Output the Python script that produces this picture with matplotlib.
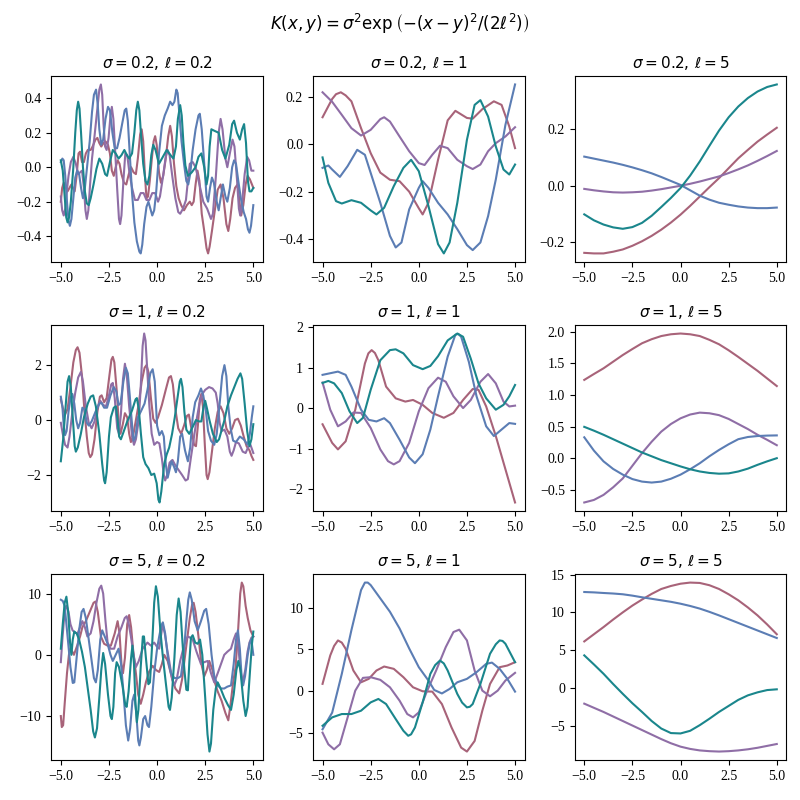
import matplotlib
matplotlib.use("Agg")
import matplotlib.pyplot as plt

plt.rcParams['font.family'] = ['Liberation Serif', 'DejaVu Sans']
plt.rcParams['mathtext.fontset'] = 'dejavusans'

BLUE = '#5b7db4'
TEAL = '#1a868c'
MAUVE = '#a86379'
PURPLE = '#8f6ea6'

sigmas = ['0.2', '1', '5']
lengths = ['0.2', '1', '5']

# sigma=0.2, l=0.2  (x, y)
a_blue = [(-5.0, 0.03), (-4.92, 0.05), (-4.85, 0.04), (-4.77, -0.05), (-4.68, -0.2), (-4.6, -0.31),
          (-4.53, -0.34), (-4.45, -0.3), (-4.35, -0.18), (-4.25, -0.06), (-4.15, -0.02), (-4.05, -0.04),
          (-3.95, -0.12), (-3.85, -0.18), (-3.75, -0.12), (-3.62, 0.02), (-3.5, 0.15), (-3.38, 0.32),
          (-3.28, 0.42), (-3.17, 0.45), (-3.08, 0.36), (-3.0, 0.22), (-2.9, 0.13), (-2.8, 0.16),
          (-2.68, 0.28), (-2.55, 0.35), (-2.45, 0.33), (-2.32, 0.2), (-2.2, 0.11), (-2.08, 0.11),
          (-1.95, 0.17), (-1.8, 0.26), (-1.68, 0.33), (-1.6, 0.34), (-1.52, 0.27), (-1.42, 0.08),
          (-1.3, -0.15), (-1.18, -0.32), (-1.05, -0.43), (-0.92, -0.49), (-0.85, -0.5), (-0.77, -0.45),
          (-0.67, -0.33), (-0.55, -0.23), (-0.45, -0.2), (-0.35, -0.24), (-0.25, -0.28), (-0.15, -0.25),
          (-0.05, -0.15), (0.1, 0.08), (0.25, 0.24), (0.4, 0.3), (0.55, 0.34), (0.68, 0.38), (0.8, 0.36),
          (0.9, 0.38), (1.0, 0.45), (1.07, 0.43), (1.15, 0.32), (1.27, 0.15), (1.4, 0.02), (1.52, -0.08),
          (1.62, -0.1), (1.72, -0.04), (1.85, 0.1), (2.0, 0.22), (2.15, 0.3), (2.22, 0.31), (2.32, 0.22),
          (2.45, 0.02), (2.57, -0.17), (2.65, -0.2), (2.75, -0.12), (2.85, -0.06), (2.95, -0.09),
          (3.1, -0.2), (3.2, -0.25), (3.3, -0.18), (3.42, -0.1), (3.55, -0.17), (3.65, -0.2),
          (3.78, -0.12), (3.9, 0.0), (4.0, 0.04), (4.1, 0.02), (4.22, -0.08), (4.35, -0.18),
          (4.5, -0.26), (4.62, -0.3), (4.72, -0.36), (4.8, -0.38), (4.88, -0.34), (5.0, -0.22)]
a_mauve = [(-5.0, -0.2), (-4.93, -0.12), (-4.85, -0.09), (-4.75, -0.11), (-4.65, -0.14), (-4.55, -0.12),
           (-4.45, -0.1), (-4.37, -0.12), (-4.28, -0.14), (-4.18, -0.05), (-4.08, 0.08), (-4.0, 0.09),
           (-3.9, 0.03), (-3.8, 0.03), (-3.7, 0.08), (-3.6, 0.1), (-3.45, 0.1), (-3.35, 0.12),
           (-3.2, 0.16), (-3.1, 0.17), (-3.0, 0.14), (-2.9, 0.12), (-2.78, 0.14), (-2.68, 0.15),
           (-2.55, 0.13), (-2.45, 0.08), (-2.35, -0.02), (-2.25, -0.05), (-2.15, 0.0), (-2.05, 0.04),
           (-1.95, 0.02), (-1.85, -0.04), (-1.72, -0.09), (-1.6, -0.1), (-1.47, -0.04), (-1.35, 0.0),
           (-1.22, -0.03), (-1.1, -0.04), (-1.0, 0.05), (-0.88, 0.19), (-0.8, 0.22), (-0.72, 0.15),
           (-0.63, -0.05), (-0.55, -0.18), (-0.47, -0.17), (-0.38, -0.08), (-0.28, 0.04), (-0.18, 0.15),
           (-0.1, 0.18), (-0.02, 0.13), (0.1, -0.03), (0.2, -0.09), (0.32, -0.05), (0.45, 0.05),
           (0.58, 0.18), (0.68, 0.24), (0.77, 0.18), (0.88, 0.02), (1.0, -0.11), (1.12, -0.18),
           (1.25, -0.22), (1.4, -0.25), (1.55, -0.22), (1.7, -0.2), (1.8, -0.22), (1.9, -0.2),
           (2.0, -0.1), (2.1, -0.02), (2.2, -0.08), (2.32, -0.27), (2.45, -0.37), (2.57, -0.47),
           (2.65, -0.5), (2.73, -0.46), (2.85, -0.37), (3.0, -0.25), (3.15, -0.13), (3.3, -0.1),
           (3.45, -0.18), (3.6, -0.33), (3.7, -0.37), (3.8, -0.3), (3.92, -0.18), (4.05, -0.12),
           (4.18, -0.1), (4.28, -0.2), (4.37, -0.28), (4.48, -0.22), (4.6, -0.1), (4.7, -0.05),
           (4.82, -0.07), (5.0, -0.12)]
a_purple = [(-5.0, -0.17), (-4.93, -0.25), (-4.85, -0.28), (-4.77, -0.24), (-4.68, -0.13), (-4.6, -0.05),
            (-4.48, 0.03), (-4.35, 0.06), (-4.22, 0.02), (-4.1, -0.04), (-4.0, -0.03), (-3.9, -0.02),
            (-3.8, -0.12), (-3.72, -0.25), (-3.65, -0.3), (-3.57, -0.25), (-3.48, -0.1), (-3.38, 0.05),
            (-3.25, 0.18), (-3.12, 0.32), (-3.0, 0.45), (-2.92, 0.48), (-2.85, 0.42), (-2.78, 0.25),
            (-2.7, 0.12), (-2.62, 0.1), (-2.52, 0.17), (-2.42, 0.3), (-2.35, 0.35), (-2.27, 0.28),
            (-2.17, 0.08), (-2.07, -0.13), (-1.98, -0.3), (-1.92, -0.33), (-1.85, -0.28), (-1.75, -0.08),
            (-1.65, 0.08), (-1.55, 0.07), (-1.45, -0.02), (-1.3, -0.12), (-1.15, -0.19), (-1.0, -0.19),
            (-0.85, -0.15), (-0.7, -0.15), (-0.55, -0.19), (-0.4, -0.19), (-0.25, -0.15), (-0.1, -0.15),
            (0.05, -0.2), (0.15, -0.17), (0.3, -0.06), (0.45, 0.06), (0.55, 0.1), (0.65, 0.07),
            (0.8, -0.06), (0.95, -0.18), (1.1, -0.26), (1.2, -0.27), (1.35, -0.24), (1.5, -0.19),
            (1.6, -0.08), (1.7, 0.02), (1.85, 0.03), (2.0, 0.0), (2.2, -0.1), (2.4, -0.2), (2.6, -0.24),
            (2.8, -0.3), (2.9, -0.27), (3.05, -0.06), (3.2, 0.2), (3.3, 0.28), (3.4, 0.22), (3.55, 0.05),
            (3.65, 0.0), (3.78, 0.08), (3.92, 0.16), (4.02, 0.12), (4.15, -0.07), (4.25, -0.24),
            (4.32, -0.28), (4.42, -0.2), (4.55, -0.04), (4.68, 0.06), (4.78, 0.04), (4.9, -0.02),
            (5.0, -0.02)]
a_teal = [(-5.0, 0.04), (-4.9, -0.02), (-4.8, -0.17), (-4.72, -0.29), (-4.65, -0.32), (-4.57, -0.29),
          (-4.48, -0.2), (-4.35, 0.0), (-4.25, 0.2), (-4.17, 0.33), (-4.1, 0.38), (-4.03, 0.34),
          (-3.95, 0.2), (-3.85, 0.0), (-3.75, -0.14), (-3.65, -0.21), (-3.55, -0.22), (-3.45, -0.18),
          (-3.3, -0.1), (-3.15, -0.01), (-3.0, 0.05), (-2.85, 0.02), (-2.7, -0.04), (-2.6, -0.05),
          (-2.45, 0.03), (-2.3, 0.1), (-2.15, 0.08), (-2.0, 0.05), (-1.85, 0.07), (-1.7, 0.1),
          (-1.57, 0.07), (-1.45, 0.05), (-1.3, 0.08), (-1.18, 0.2), (-1.08, 0.33), (-1.0, 0.38),
          (-0.92, 0.33), (-0.83, 0.18), (-0.72, 0.02), (-0.6, -0.08), (-0.5, -0.1), (-0.4, -0.05),
          (-0.3, 0.07), (-0.2, 0.13), (-0.08, 0.1), (0.1, 0.02), (0.3, 0.06), (0.5, 0.1), (0.7, 0.07),
          (0.85, 0.05), (0.98, 0.12), (1.08, 0.28), (1.2, 0.36), (1.28, 0.3), (1.37, 0.14), (1.47, 0.01),
          (1.6, -0.05), (1.8, -0.03), (2.0, 0.0), (2.15, 0.06), (2.3, 0.08), (2.45, 0.0), (2.57, -0.1),
          (2.65, -0.05), (2.73, 0.12), (2.82, 0.22), (3.0, 0.21), (3.2, 0.2), (3.38, 0.1), (3.55, 0.05),
          (3.75, 0.13), (3.9, 0.25), (4.0, 0.27), (4.15, 0.2), (4.3, 0.16), (4.42, 0.22), (4.52, 0.25),
          (4.62, 0.14), (4.72, -0.08), (4.8, -0.14), (4.9, -0.14), (5.0, -0.12)]

# sigma=0.2, l=1
b_mauve = [(-5.0, 0.113), (-4.5, 0.19), (-4.3, 0.21), (-4.05, 0.218), (-3.8, 0.205), (-3.5, 0.18),
           (-3.0, 0.067), (-2.5, -0.038), (-2.0, -0.12), (-1.5, -0.15), (-1.0, -0.156), (-0.5, -0.2),
           (0.0, -0.27), (0.2, -0.296), (0.5, -0.247), (1.0, -0.066), (1.5, 0.10), (1.9, 0.14),
           (2.5, 0.11), (2.8, 0.107), (3.3, 0.147), (3.9, 0.18), (4.3, 0.165), (4.7, 0.074),
           (5.0, -0.017)]
b_purple = [(-5.0, 0.218), (-4.5, 0.178), (-4.0, 0.123), (-3.5, 0.067), (-3.0, 0.036), (-2.5, 0.06),
            (-2.0, 0.105), (-1.8, 0.113), (-1.5, 0.095), (-1.0, 0.032), (-0.5, -0.03), (0.0, -0.08),
            (0.3, -0.088), (0.7, -0.045), (1.1, -0.007), (1.5, -0.017), (2.0, -0.066), (2.5, -0.093),
            (2.8, -0.105), (3.2, -0.086), (3.6, -0.03), (4.0, 0.004), (4.5, 0.032), (5.0, 0.071)]
b_blue = [(-5.0, -0.10), (-4.7, -0.09), (-4.5, -0.107), (-4.1, -0.138), (-3.7, -0.093), (-3.2, -0.024),
          (-2.8, -0.045), (-2.5, -0.121), (-2.0, -0.247), (-1.5, -0.386), (-1.2, -0.435),
          (-0.9, -0.414), (-0.5, -0.275), (0.0, -0.184), (0.2, -0.156), (0.5, -0.184), (1.0, -0.247),
          (1.5, -0.296), (2.0, -0.358), (2.5, -0.425), (2.8, -0.446), (3.2, -0.414), (3.6, -0.303),
          (4.0, -0.149), (4.5, 0.081), (5.0, 0.251)]
b_teal = [(-5.0, -0.056), (-4.7, -0.163), (-4.3, -0.24), (-4.0, -0.25), (-3.5, -0.236), (-3.0, -0.247),
          (-2.5, -0.279), (-2.2, -0.296), (-1.8, -0.268), (-1.3, -0.177), (-0.8, -0.10),
          (-0.4, -0.066), (0.0, -0.114), (0.5, -0.26), (1.0, -0.421), (1.3, -0.46), (1.6, -0.414),
          (2.0, -0.247), (2.5, 0.018), (2.9, 0.165), (3.2, 0.185), (3.6, 0.116), (4.0, -0.01),
          (4.4, -0.107), (4.7, -0.128), (5.0, -0.086)]

# l=5 panels share one x grid
x_l5 = [-5.0, -4.5, -4.0, -3.5, -3.0, -2.5, -2.0, -1.5, -1.0, -0.5, 0.0,
        0.5, 1.0, 1.5, 2.0, 2.5, 3.0, 3.5, 4.0, 4.5, 5.0]

# sigma=0.2, l=5
c_blue = [0.103, 0.096, 0.089, 0.082, 0.074, 0.065, 0.055, 0.044, 0.031, 0.017, 0.003,
          -0.016, -0.035, -0.049, -0.060, -0.067, -0.073, -0.077, -0.079, -0.079, -0.077]
c_purple = [-0.011, -0.016, -0.020, -0.023, -0.024, -0.023, -0.021, -0.017, -0.012, -0.006, 0.0,
            0.007, 0.015, 0.024, 0.033, 0.045, 0.058, 0.072, 0.088, 0.105, 0.123]
c_teal = [-0.101, -0.122, -0.137, -0.147, -0.152, -0.146, -0.131, -0.106, -0.075, -0.043, -0.008,
          0.036, 0.086, 0.141, 0.195, 0.242, 0.28, 0.31, 0.333, 0.349, 0.358]
c_mauve = [-0.237, -0.239, -0.239, -0.233, -0.225, -0.212, -0.196, -0.177, -0.155, -0.130, -0.102,
           -0.071, -0.038, -0.005, 0.027, 0.062, 0.097, 0.127, 0.156, 0.181, 0.205]

# sigma=1, l=0.2
d_mauve = [(-5.0, 0.75), (-4.9, 0.45), (-4.78, 0.2), (-4.65, 0.4), (-4.5, 1.2), (-4.35, 2.1),
           (-4.22, 2.55), (-4.13, 2.65), (-4.03, 2.45), (-3.9, 1.6), (-3.78, 0.4), (-3.65, -0.6),
           (-3.55, -1.2), (-3.47, -1.35), (-3.38, -1.25), (-3.25, -0.7), (-3.1, 0.3), (-2.97, 0.85),
           (-2.88, 0.9), (-2.75, 0.65), (-2.62, 0.8), (-2.48, 1.6), (-2.37, 2.2), (-2.3, 2.3),
           (-2.22, 2.1), (-2.1, 1.1), (-1.98, -0.2), (-1.9, -0.5), (-1.78, -0.15), (-1.67, 0.25),
           (-1.55, 0.1), (-1.45, -0.5), (-1.36, -0.8), (-1.25, -0.6), (-1.1, 0.0), (-0.95, 0.6),
           (-0.8, 1.4), (-0.65, 1.9), (-0.55, 2.0), (-0.45, 1.75), (-0.32, 0.8), (-0.2, 0.05),
           (-0.08, -0.1), (0.05, 0.1), (0.25, 0.55), (0.45, 1.1), (0.62, 1.55), (0.72, 1.6),
           (0.82, 1.3), (0.95, 0.4), (1.1, -0.3), (1.25, -0.5), (1.4, -0.2), (1.55, 0.15), (1.65, 0.2),
           (1.78, -0.3), (1.92, -0.9), (2.02, -0.95), (2.12, -0.2), (2.22, 0.75), (2.3, 0.95),
           (2.38, 0.5), (2.48, -0.9), (2.57, -2.0), (2.63, -2.15), (2.72, -1.9), (2.85, -1.15),
           (3.0, -0.3), (3.15, 0.3), (3.3, 0.5), (3.45, 0.25), (3.6, -0.3), (3.75, -0.5), (3.9, -0.3),
           (4.05, 0.0), (4.2, 0.05), (4.35, -0.2), (4.5, -0.6), (4.65, -0.95), (4.8, -1.1),
           (4.9, -1.3), (5.0, -1.45)]
d_purple = [(-5.0, -0.1), (-4.9, -0.5), (-4.78, -0.9), (-4.65, -1.0), (-4.55, -0.6), (-4.4, 0.3),
            (-4.25, 1.0), (-4.1, 1.55), (-3.96, 1.75), (-3.85, 1.4), (-3.7, 0.5), (-3.55, -0.1),
            (-3.4, -0.3), (-3.25, -0.05), (-3.1, 0.45), (-2.95, 0.7), (-2.8, 0.55), (-2.65, 0.5),
            (-2.5, 0.9), (-2.38, 1.3), (-2.3, 1.35), (-2.2, 0.8), (-2.07, -0.3), (-1.98, -0.5),
            (-1.88, 0.2), (-1.77, 1.5), (-1.67, 2.05), (-1.57, 1.6), (-1.45, 0.5), (-1.3, -0.6),
            (-1.2, -0.9), (-1.1, -0.7), (-0.95, 0.0), (-0.85, 1.2), (-0.75, 2.7), (-0.67, 3.15),
            (-0.6, 2.9), (-0.5, 1.7), (-0.4, 0.5), (-0.28, -0.5), (-0.15, -0.9), (0.0, -0.8),
            (0.12, -0.85), (0.25, -1.4), (0.35, -2.0), (0.42, -2.2), (0.52, -2.0), (0.65, -1.55),
            (0.8, -1.45), (0.95, -1.65), (1.1, -1.8), (1.3, -2.0), (1.48, -2.2), (1.6, -2.15),
            (1.75, -1.4), (1.9, -0.7), (2.05, 0.0), (2.2, 0.6), (2.35, 0.95), (2.5, 1.1), (2.7, 1.2),
            (2.88, 1.15), (3.05, 1.0), (3.15, 0.6), (3.25, -0.1), (3.35, -0.4), (3.5, -0.35),
            (3.65, -0.6), (3.78, -1.15), (3.87, -1.3), (3.98, -1.1), (4.1, -0.8), (4.25, -0.85),
            (4.45, -1.15), (4.6, -1.2), (4.72, -1.0), (4.85, -0.9), (5.0, -1.2)]
d_blue = [(-5.0, 0.85), (-4.92, 0.5), (-4.85, -0.2), (-4.78, -0.55), (-4.7, -0.4), (-4.6, 0.3),
          (-4.5, 0.8), (-4.4, 0.95), (-4.3, 0.6), (-4.2, 0.0), (-4.1, -0.3), (-4.0, -0.1),
          (-3.88, 0.45), (-3.78, 0.4), (-3.65, -0.1), (-3.55, -0.2), (-3.4, -0.05), (-3.2, 0.3),
          (-3.0, 0.6), (-2.88, 0.62), (-2.75, 0.45), (-2.6, 0.45), (-2.42, 0.9), (-2.25, 1.2),
          (-2.12, 1.05), (-2.0, 0.55), (-1.9, 0.6), (-1.75, 1.4), (-1.62, 1.9), (-1.52, 1.7),
          (-1.42, 0.9), (-1.32, 0.0), (-1.22, -0.75), (-1.12, -0.6), (-1.0, 0.1), (-0.85, 0.3),
          (-0.65, 0.6), (-0.5, 1.1), (-0.35, 1.7), (-0.23, 1.85), (-0.12, 1.4), (0.0, -0.2),
          (0.12, -0.55), (0.25, -0.4), (0.35, -0.6), (0.45, -1.6), (0.55, -2.1), (0.65, -1.8),
          (0.75, -1.5), (0.88, -1.7), (0.98, -1.9), (1.08, -1.5), (1.2, -0.6), (1.3, -0.5),
          (1.45, -1.1), (1.6, -1.5), (1.72, -1.0), (1.85, 0.1), (1.98, 0.65), (2.15, 0.9),
          (2.28, 1.15), (2.4, 0.9), (2.54, 0.3), (2.65, -0.4), (2.8, -0.75), (2.97, -0.9),
          (3.1, -0.5), (3.25, 0.6), (3.38, 1.6), (3.5, 2.0), (3.6, 1.6), (3.7, 0.5), (3.82, -0.3),
          (3.95, -0.75), (4.1, -0.8), (4.3, -0.6), (4.5, -0.7), (4.7, -0.9), (4.82, -0.5),
          (4.92, 0.1), (5.0, 0.5)]
d_teal = [(-5.0, -1.5), (-4.88, -0.7), (-4.75, 0.5), (-4.65, 1.4), (-4.57, 1.6), (-4.48, 1.2),
          (-4.38, 0.1), (-4.28, -0.95), (-4.22, -1.15), (-4.12, -1.0), (-3.96, -0.5), (-3.8, 0.1),
          (-3.6, 0.6), (-3.45, 0.85), (-3.32, 0.9), (-3.18, 0.5), (-3.0, -0.5), (-2.85, -1.6),
          (-2.75, -2.2), (-2.7, -2.3), (-2.62, -1.9), (-2.5, -0.6), (-2.4, 0.1), (-2.25, 0.45),
          (-2.14, 0.5), (-2.05, 0.0), (-1.97, -0.6), (-1.88, -0.7), (-1.75, -0.45), (-1.55, -0.05),
          (-1.3, 0.35), (-1.12, 0.75), (-1.05, 0.8), (-0.95, 0.4), (-0.84, -0.5), (-0.72, -1.35),
          (-0.6, -1.6), (-0.45, -1.75), (-0.3, -2.0), (-0.15, -1.95), (-0.02, -2.3), (0.07, -2.9),
          (0.13, -3.0), (0.22, -2.6), (0.37, -1.6), (0.5, -1.25), (0.63, -1.0), (0.78, -0.5),
          (0.92, 0.1), (1.08, 0.9), (1.18, 1.4), (1.24, 1.5), (1.32, 1.2), (1.42, 0.3), (1.52, -0.35),
          (1.67, -0.5), (1.85, -0.25), (2.02, 0.0), (2.18, -0.05), (2.3, -0.05), (2.42, 0.5),
          (2.5, 0.7), (2.6, 0.4), (2.72, 0.0), (2.9, -0.5), (3.1, -0.8), (3.22, -0.7), (3.38, -0.3),
          (3.5, 0.0), (3.65, 0.5), (3.84, 0.9), (4.01, 1.2), (4.18, 1.5), (4.33, 1.7), (4.42, 1.5),
          (4.55, 0.6), (4.68, -0.4), (4.8, -0.95), (4.9, -0.7), (5.0, -0.15)]

# sigma=1, l=1
e_blue = [(-5.0, 0.82), (-4.5, 0.87), (-4.2, 0.90), (-3.8, 0.82), (-3.5, 0.53), (-3.0, -0.04),
          (-2.6, -0.29), (-2.2, -0.33), (-1.8, -0.25), (-1.5, -0.37), (-1.0, -0.78), (-0.5, -1.22),
          (-0.2, -1.36), (0.2, -1.14), (0.6, -0.53), (1.0, 0.29), (1.5, 1.27), (1.9, 1.81),
          (2.05, 1.83), (2.2, 1.76), (2.6, 1.14), (3.0, 0.29), (3.5, -0.45), (3.9, -0.69),
          (4.3, -0.53), (4.7, -0.37), (5.0, -0.39)]
e_teal = [(-5.0, 0.62), (-4.7, 0.67), (-4.4, 0.61), (-4.0, 0.37), (-3.6, -0.08), (-3.2, -0.37),
          (-2.9, -0.24), (-2.5, 0.45), (-2.0, 1.18), (-1.5, 1.43), (-1.2, 1.45), (-0.8, 1.35),
          (-0.3, 1.06), (0.2, 0.96), (0.6, 1.04), (1.0, 1.28), (1.5, 1.67), (2.0, 1.84), (2.3, 1.76),
          (2.7, 1.22), (3.1, 0.61), (3.5, 0.24), (4.0, -0.04), (4.4, 0.08), (4.7, 0.29), (5.0, 0.57)]
e_mauve = [(-5.0, -0.40), (-4.5, -0.86), (-4.2, -1.02), (-3.8, -0.82), (-3.3, -0.04), (-2.8, 1.1),
           (-2.62, 1.35), (-2.45, 1.43), (-2.28, 1.36), (-2.1, 1.18), (-1.7, 0.53), (-1.2, 0.24),
           (-0.7, 0.16), (-0.3, 0.2), (0.2, 0.08), (0.7, -0.12), (1.3, -0.24), (1.8, -0.12),
           (2.3, 0.2), (2.8, 0.47), (3.1, 0.45), (3.5, 0.04), (4.0, -0.69), (4.5, -1.51), (5.0, -2.33)]
e_purple = [(-5.0, 0.63), (-4.6, -0.04), (-4.2, -0.45), (-3.8, -0.33), (-3.4, -0.11), (-3.0, -0.12),
            (-2.5, -0.49), (-2.0, -1.02), (-1.6, -1.31), (-1.3, -1.39), (-1.0, -1.31), (-0.5, -0.86),
            (0.0, -0.08), (0.5, 0.49), (1.0, 0.75), (1.4, 0.65), (1.8, 0.29), (2.3, 0.0), (2.7, 0.2),
            (3.2, 0.65), (3.6, 0.84), (4.0, 0.61), (4.4, 0.16), (4.7, 0.04), (5.0, 0.06)]

# sigma=1, l=5
f_mauve = [1.237, 1.33, 1.42, 1.525, 1.63, 1.725, 1.816, 1.88, 1.93, 1.958, 1.97,
           1.958, 1.93, 1.87, 1.80, 1.705, 1.6, 1.49, 1.38, 1.26, 1.14]
f_purple = [-0.70, -0.66, -0.58, -0.46, -0.32, -0.12, 0.08, 0.26, 0.42, 0.54, 0.63,
            0.69, 0.72, 0.71, 0.68, 0.62, 0.54, 0.46, 0.37, 0.29, 0.205]
f_blue = [0.33, 0.12, -0.05, -0.17, -0.26, -0.33, -0.37, -0.385, -0.37, -0.325, -0.26,
          -0.175, -0.08, 0.03, 0.13, 0.22, 0.30, 0.335, 0.35, 0.357, 0.36]
f_teal = [0.495, 0.435, 0.37, 0.30, 0.23, 0.16, 0.09, 0.03, -0.03, -0.08, -0.13,
          -0.175, -0.21, -0.233, -0.245, -0.24, -0.21, -0.165, -0.105, -0.05, 0.0]

# sigma=5, l=0.2
g_teal = [(-5.0, 1.0), (-4.9, 5.0), (-4.8, 8.5), (-4.71, 9.5), (-4.62, 7.0), (-4.52, 2.0), (-4.45, 0.0),
          (-4.38, 2.5), (-4.3, 3.8), (-4.18, 3.5), (-4.05, 2.5), (-3.9, 0.5), (-3.75, -2.0),
          (-3.6, -5.5), (-3.45, -9.0), (-3.32, -12.5), (-3.23, -13.5), (-3.12, -12.0), (-3.0, -7.0),
          (-2.9, -2.5), (-2.8, 0.3), (-2.7, -1.5), (-2.55, -6.5), (-2.42, -10.0), (-2.35, -10.5),
          (-2.27, -8.5), (-2.18, -3.0), (-2.1, -1.2), (-1.98, -2.0), (-1.8, -5.0), (-1.65, -8.2),
          (-1.58, -8.5), (-1.48, -6.0), (-1.35, -0.5), (-1.28, 1.5), (-1.2, -1.5), (-1.12, -8.0),
          (-1.05, -11.0), (-0.97, -9.0), (-0.85, -2.0), (-0.74, 3.0), (-0.68, 3.0), (-0.58, -0.5),
          (-0.45, -4.8), (-0.37, -4.5), (-0.25, 2.0), (-0.15, 8.5), (-0.06, 11.2), (0.04, 9.5),
          (0.17, 4.0), (0.29, 0.0), (0.45, -4.5), (0.6, -8.5), (0.67, -9.0), (0.76, -7.0), (0.9, -0.5),
          (1.02, 6.5), (1.12, 9.2), (1.22, 7.0), (1.32, 2.0), (1.42, -2.5), (1.52, -5.7), (1.6, -5.8),
          (1.68, -1.0), (1.76, 2.8), (1.85, 3.2), (1.98, 2.0), (2.11, 1.8), (2.23, 2.5), (2.35, 0.0),
          (2.5, -7.0), (2.62, -13.0), (2.72, -15.8), (2.8, -14.5), (2.92, -9.0), (3.05, -5.5),
          (3.15, -4.5), (3.3, -5.5), (3.49, -7.0), (3.68, -8.2), (3.84, -9.0), (3.98, -6.5),
          (4.12, -2.5), (4.22, -1.0), (4.33, -2.5), (4.48, -7.5), (4.6, -10.0), (4.7, -8.5),
          (4.82, -3.0), (4.92, 1.5), (5.0, 3.8)]
g_blue = [(-5.0, 9.0), (-4.9, 8.8), (-4.8, 8.0), (-4.68, 4.0), (-4.5, -2.0), (-4.38, -4.6), (-4.3, -4.5),
          (-4.18, -0.5), (-4.05, 4.0), (-3.92, 7.0), (-3.82, 7.5), (-3.7, 6.0), (-3.55, 2.5),
          (-3.42, -0.5), (-3.28, -3.8), (-3.18, -4.5), (-3.08, -2.5), (-2.95, 2.5), (-2.85, 4.0),
          (-2.72, 3.0), (-2.57, 1.8), (-2.42, 0.0), (-2.3, -1.0), (-2.15, 0.0), (-2.0, 1.0),
          (-1.87, -1.5), (-1.75, -6.0), (-1.62, -11.5), (-1.5, -14.0), (-1.4, -12.0), (-1.28, -7.5),
          (-1.19, -6.5), (-1.08, -9.5), (-0.98, -14.0), (-0.92, -14.8), (-0.84, -13.5),
          (-0.72, -10.5), (-0.62, -10.0), (-0.5, -11.5), (-0.42, -11.8), (-0.3, -8.5), (-0.15, -3.0),
          (0.0, 1.0), (0.11, 3.0), (0.22, 4.8), (0.3, 5.3), (0.42, 3.5), (0.58, -1.0), (0.72, -3.0),
          (0.9, -3.8), (1.08, -3.8), (1.24, -3.5), (1.38, 0.0), (1.52, 5.5), (1.62, 9.0), (1.7, 10.2),
          (1.8, 9.0), (1.95, 5.5), (2.11, 4.0), (2.28, 5.5), (2.45, 7.2), (2.55, 7.5), (2.68, 5.0),
          (2.83, 0.0), (2.97, -3.5), (3.15, -5.0), (3.32, -5.5), (3.49, -5.5), (3.65, -5.2),
          (3.84, -5.0), (3.98, -1.5), (4.1, 2.5), (4.2, 4.0), (4.3, 1.0), (4.4, -4.0), (4.47, -5.0),
          (4.57, -3.5), (4.71, 0.0), (4.82, 2.0), (4.9, 2.5), (5.0, 0.0)]
g_mauve = [(-5.0, -10.0), (-4.95, -11.8), (-4.88, -11.5), (-4.8, -8.0), (-4.68, -3.0), (-4.58, 0.0),
           (-4.5, 1.0), (-4.4, 0.5), (-4.32, 0.0), (-4.15, 1.5), (-4.0, 3.0), (-3.88, 4.5),
           (-3.7, 5.5), (-3.5, 7.0), (-3.3, 8.5), (-3.2, 8.7), (-3.08, 7.0), (-2.92, 3.0),
           (-2.75, 1.8), (-2.57, 1.5), (-2.4, 1.5), (-2.2, 3.5), (-2.05, 5.5), (-1.95, 3.5),
           (-1.85, -1.5), (-1.77, -3.0), (-1.67, -0.5), (-1.55, 5.0), (-1.45, 6.5), (-1.35, 4.5),
           (-1.22, 0.0), (-1.1, -3.0), (-0.98, -6.5), (-0.85, -8.0), (-0.72, -6.5), (-0.58, -4.5),
           (-0.42, -2.8), (-0.23, -1.8), (-0.05, -2.5), (0.11, -2.8), (0.25, -1.5), (0.37, 0.0),
           (0.55, -1.0), (0.75, -3.5), (0.95, -5.5), (1.15, -6.3), (1.3, -4.0), (1.5, 1.0),
           (1.7, 6.0), (1.82, 8.2), (1.9, 8.5), (2.0, 7.0), (2.15, 3.0), (2.3, -1.5), (2.45, -3.5),
           (2.58, -2.5), (2.71, -1.0), (2.88, -2.5), (3.0, -4.5), (3.15, -6.0), (3.35, -7.5),
           (3.55, -9.5), (3.7, -10.7), (3.82, -8.0), (3.95, -4.5), (4.08, -2.0), (4.2, 3.5),
           (4.32, 10.0), (4.4, 11.8), (4.48, 11.2), (4.6, 8.0), (4.71, 6.0), (4.85, 4.0), (5.0, 3.0)]
g_purple = [(-5.0, -1.2), (-4.92, 2.5), (-4.83, 6.0), (-4.75, 7.8), (-4.69, 8.0), (-4.6, 7.0),
            (-4.5, 5.0), (-4.39, 4.0), (-4.25, 3.6), (-4.13, 3.5), (-4.0, 4.5), (-3.88, 5.5),
            (-3.75, 4.5), (-3.62, 3.0), (-3.45, 3.5), (-3.3, 5.5), (-3.15, 8.5), (-3.0, 10.8),
            (-2.9, 11.3), (-2.8, 10.0), (-2.68, 5.5), (-2.57, 2.0), (-2.42, 1.0), (-2.23, 1.0),
            (-2.05, 3.0), (-1.85, 4.5), (-1.68, 6.0), (-1.58, 6.3), (-1.47, 5.0), (-1.36, 3.0),
            (-1.22, 0.0), (-1.1, -2.0), (-0.95, -1.0), (-0.75, 1.0), (-0.5, 2.0), (-0.32, 1.5),
            (-0.15, 2.0), (0.0, 1.3), (0.11, 1.0), (0.2, 3.0), (0.29, 5.0), (0.4, 3.5), (0.52, 1.0),
            (0.63, -1.0), (0.78, -4.0), (0.89, -5.0), (1.02, -4.0), (1.2, -1.0), (1.4, 1.5),
            (1.59, 3.0), (1.72, 2.8), (1.85, 2.5), (2.05, 0.5), (2.28, -1.5), (2.45, -1.2),
            (2.63, -1.0), (2.8, -3.0), (2.97, -4.5), (3.15, -3.0), (3.32, -1.5), (3.49, 0.0),
            (3.65, 0.5), (3.84, 1.0), (3.98, 2.5), (4.1, 3.5), (4.2, 2.0), (4.33, -2.5), (4.45, -4.5),
            (4.58, -2.5), (4.7, 0.5), (4.8, 2.0), (4.9, 2.8), (5.0, 3.0)]

# sigma=5, l=1
h_blue = [(-5.0, -4.6), (-4.5, -2.6), (-4.0, 2.05), (-3.5, 7.3), (-3.0, 12.1), (-2.8, 13.0),
          (-2.65, 13.0), (-2.5, 12.7), (-2.0, 11.1), (-1.5, 9.5), (-1.0, 7.5), (-0.5, 5.1),
          (0.0, 2.85), (0.5, 1.25), (0.8, 0.12), (1.2, -0.3), (1.6, 0.24), (2.0, 1.04), (2.5, 1.45),
          (3.0, 2.25), (3.5, 3.25), (3.8, 3.4), (4.2, 2.65), (4.6, 1.45), (5.0, -0.08)]
h_mauve = [(-5.0, 0.85), (-4.6, 4.26), (-4.4, 5.4), (-4.2, 6.06), (-4.0, 5.8), (-3.8, 5.06),
           (-3.4, 2.45), (-3.0, 1.04), (-2.6, 1.45), (-2.2, 2.45), (-1.8, 2.93), (-1.3, 2.65),
           (-0.8, 1.65), (-0.3, 0.44), (0.2, -0.04), (0.7, -0.08), (1.2, -1.57), (1.7, -4.38),
           (2.2, -6.8), (2.5, -7.27), (2.9, -6.0), (3.3, -2.37), (3.7, 0.84), (4.2, 2.85),
           (4.6, 3.05), (5.0, 3.45)]
h_purple = [(-5.0, -5.0), (-4.7, -6.4), (-4.4, -7.0), (-4.1, -6.4), (-3.7, -3.2), (-3.3, 0.04),
            (-2.9, 1.57), (-2.5, 1.65), (-2.0, 1.33), (-1.5, 0.44), (-1.0, -1.16), (-0.6, -2.77),
            (-0.3, -3.17), (0.0, -2.57), (0.4, -0.16), (0.9, 2.45), (1.4, 5.26), (1.8, 7.07),
            (2.1, 7.35), (2.5, 6.06), (2.9, 2.45), (3.3, 0.04), (3.7, -0.64), (4.1, 0.04), (4.5, 1.25),
            (5.0, 2.17)]
h_teal = [(-5.0, -4.18), (-4.5, -3.17), (-4.0, -2.77), (-3.5, -2.77), (-3.0, -2.37), (-2.5, -1.37),
          (-2.1, -0.96), (-1.7, -1.57), (-1.2, -3.37), (-0.8, -4.78), (-0.55, -5.38), (-0.4, -5.2),
          (-0.2, -4.38), (0.2, -1.37), (0.6, 2.05), (0.85, 3.1), (1.1, 3.65), (1.3, 3.3), (1.5, 2.45),
          (2.0, -0.36), (2.25, -1.4), (2.5, -1.97), (2.65, -1.9), (2.8, -1.57), (3.2, 0.84),
          (3.7, 4.46), (4.0, 5.6), (4.2, 6.06), (4.35, 6.0), (4.5, 5.66), (5.0, 3.45)]

# sigma=5, l=5
i_blue = [12.7, 12.65, 12.57, 12.5, 12.4, 12.22, 12.0, 11.8, 11.6, 11.4, 11.15,
          10.85, 10.5, 10.07, 9.6, 9.1, 8.6, 8.1, 7.6, 7.1, 6.6]
i_mauve = [6.15, 7.1, 8.05, 9.05, 10.0, 10.9, 11.7, 12.45, 13.1, 13.5, 13.8,
           13.95, 13.9, 13.6, 13.1, 12.4, 11.6, 10.65, 9.6, 8.4, 7.1]
i_teal = [4.3, 3.1, 1.86, 0.5, -0.8, -2.05, -3.2, -4.4, -5.4, -6.0, -6.05,
          -5.7, -4.95, -4.1, -3.2, -2.4, -1.6, -1.0, -0.6, -0.3, -0.2]
i_purple = [-2.1, -2.65, -3.2, -3.8, -4.4, -5.0, -5.6, -6.2, -6.8, -7.35, -7.8,
            -8.1, -8.3, -8.4, -8.45, -8.4, -8.3, -8.15, -7.95, -7.7, -7.45]


def pts(p):
    return [q[0] for q in p], [q[1] for q in p]


grid = [
    [[(a_mauve, MAUVE), (a_purple, PURPLE), (a_blue, BLUE), (a_teal, TEAL)],
     [(b_mauve, MAUVE), (b_purple, PURPLE), (b_blue, BLUE), (b_teal, TEAL)],
     [(list(zip(x_l5, c_mauve)), MAUVE), (list(zip(x_l5, c_purple)), PURPLE),
      (list(zip(x_l5, c_blue)), BLUE), (list(zip(x_l5, c_teal)), TEAL)]],
    [[(d_mauve, MAUVE), (d_purple, PURPLE), (d_blue, BLUE), (d_teal, TEAL)],
     [(e_mauve, MAUVE), (e_purple, PURPLE), (e_blue, BLUE), (e_teal, TEAL)],
     [(list(zip(x_l5, f_mauve)), MAUVE), (list(zip(x_l5, f_purple)), PURPLE),
      (list(zip(x_l5, f_blue)), BLUE), (list(zip(x_l5, f_teal)), TEAL)]],
    [[(g_mauve, MAUVE), (g_purple, PURPLE), (g_blue, BLUE), (g_teal, TEAL)],
     [(h_mauve, MAUVE), (h_purple, PURPLE), (h_blue, BLUE), (h_teal, TEAL)],
     [(list(zip(x_l5, i_mauve)), MAUVE), (list(zip(x_l5, i_purple)), PURPLE),
      (list(zip(x_l5, i_blue)), BLUE), (list(zip(x_l5, i_teal)), TEAL)]],
]

fig, axes = plt.subplots(3, 3, figsize=(8, 8), dpi=100)
fig.subplots_adjust(left=0.064, right=0.983, top=0.905, bottom=0.05, wspace=0.236, hspace=0.34)

for r in range(3):
    for c in range(3):
        ax = axes[r][c]
        for series, col in grid[r][c]:
            xs, ys = pts(series)
            ax.plot(xs, ys, color=col, lw=1.5, solid_joinstyle='round')
        ax.set_title(r'$\sigma = %s,\, \ell = %s$' % (sigmas[r], lengths[c]), fontsize=11)
        ax.set_xticks([-5.0, -2.5, 0.0, 2.5, 5.0])
        ax.tick_params(labelsize=10)

fig.suptitle(r'$K(x, y) = \sigma^2 \exp\left(-(x - y)^2 / (2\ell^2)\right)$', fontsize=12, y=0.985)

plt.savefig('out.png', dpi=100)
